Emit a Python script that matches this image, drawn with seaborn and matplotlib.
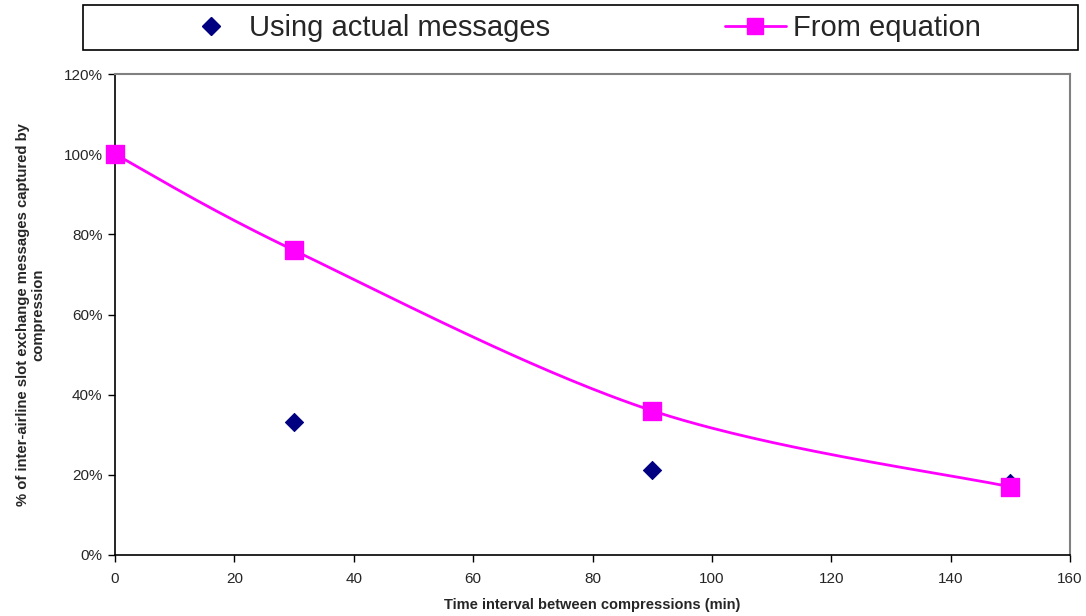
import numpy as np
import pandas as pd
import matplotlib
matplotlib.use("Agg")
import matplotlib.pyplot as plt
import seaborn as sns
from matplotlib.lines import Line2D
from matplotlib.patches import Rectangle
from matplotlib.ticker import FuncFormatter

# ---- data ----
actual_x = [30, 90, 150]
actual_y = [0.333, 0.212, 0.18]
eq_x = [0, 30, 90, 150]
eq_y = [1.00, 0.76, 0.36, 0.17]
x_ticks = [0, 20, 40, 60, 80, 100, 120, 140, 160]
y_ticks = [0, 0.2, 0.4, 0.6, 0.8, 1.0, 1.2]

sns.set_theme(style="white")
plt.rcParams['font.family'] = ['Liberation Sans', 'DejaVu Sans']

W, H = 1086, 616
fig = plt.figure(figsize=(W/100, H/100), dpi=100)
ax = fig.add_axes([115/W, 1-555/H, (1070-115)/W, (555-74)/H])

# smoothed curve (Excel-like Catmull-Rom Bezier through the data points)
P = np.column_stack([eq_x, eq_y]).astype(float)
n = len(P)
curve = []
t = np.linspace(0, 1, 60)
for i in range(n-1):
    p0 = P[i]; p3 = P[i+1]
    prev = P[i-1] if i > 0 else P[i]
    nxt = P[i+2] if i+2 < n else P[i+1]
    c1 = p0 + (p3 - prev)/6.0
    c2 = p3 - (nxt - p0)/6.0
    seg = ((1-t)**3)[:, None]*p0 + (3*(1-t)**2*t)[:, None]*c1 + (3*(1-t)*t**2)[:, None]*c2 + (t**3)[:, None]*p3
    curve.append(seg)
curve = np.vstack(curve)
ax.plot(curve[:, 0], curve[:, 1], color="#FF00FF", lw=2, zorder=2, clip_on=False)

df_a = pd.DataFrame({"x": actual_x, "y": actual_y})
df_e = pd.DataFrame({"x": eq_x, "y": eq_y})
sns.scatterplot(data=df_a, x="x", y="y", ax=ax, marker="D", s=85, color="#000080",
                edgecolor="#000080", zorder=3, clip_on=False)
sns.scatterplot(data=df_e, x="x", y="y", ax=ax, marker="s", s=150, color="#FF00FF",
                edgecolor="#FF00FF", zorder=4, clip_on=False)

ax.set_xlim(0, 160)
ax.set_ylim(0, 1.2)
ax.set_xticks(x_ticks)
ax.set_yticks(y_ticks)
ax.yaxis.set_major_formatter(FuncFormatter(lambda v, p: f"{v*100:.0f}%"))
ax.tick_params(axis="both", direction="out", length=5, width=1, color="black",
               labelsize=11, bottom=True, left=True)
ax.tick_params(axis="x", pad=7)
ax.tick_params(axis="y", pad=4)
for s in ["left", "bottom"]:
    ax.spines[s].set_color("black"); ax.spines[s].set_linewidth(1.2)
for s in ["top", "right"]:
    ax.spines[s].set_color("#808080"); ax.spines[s].set_linewidth(1.5)

ax.set_xlabel("Time interval between compressions (min)", fontsize=10.5, fontweight="bold", labelpad=9)
ax.set_ylabel("% of inter-airline slot exchange messages captured by\ncompression",
              fontsize=10.7, fontweight="bold", labelpad=13, linespacing=1.1)

# legend box
fig.patches.append(Rectangle((83/W, 1-50/H), (1078-83)/W, 45/H, transform=fig.transFigure,
                             facecolor="white", edgecolor="black", lw=1.2, zorder=0))
handles = [
    Line2D([], [], linestyle="none", marker="D", markersize=9, color="#000080"),
    Line2D([], [], color="#FF00FF", lw=2, marker="s", markersize=12),
]
leg = fig.legend(handles, ["Using actual messages", "From equation"], loc="center left",
                 bbox_to_anchor=(180/W, 1-28/H), ncol=2, fontsize=21, frameon=False,
                 borderaxespad=0, borderpad=0, handlelength=2.1, handletextpad=0.25,
                 columnspacing=6.0)

fig.savefig("out.png", dpi=100)
